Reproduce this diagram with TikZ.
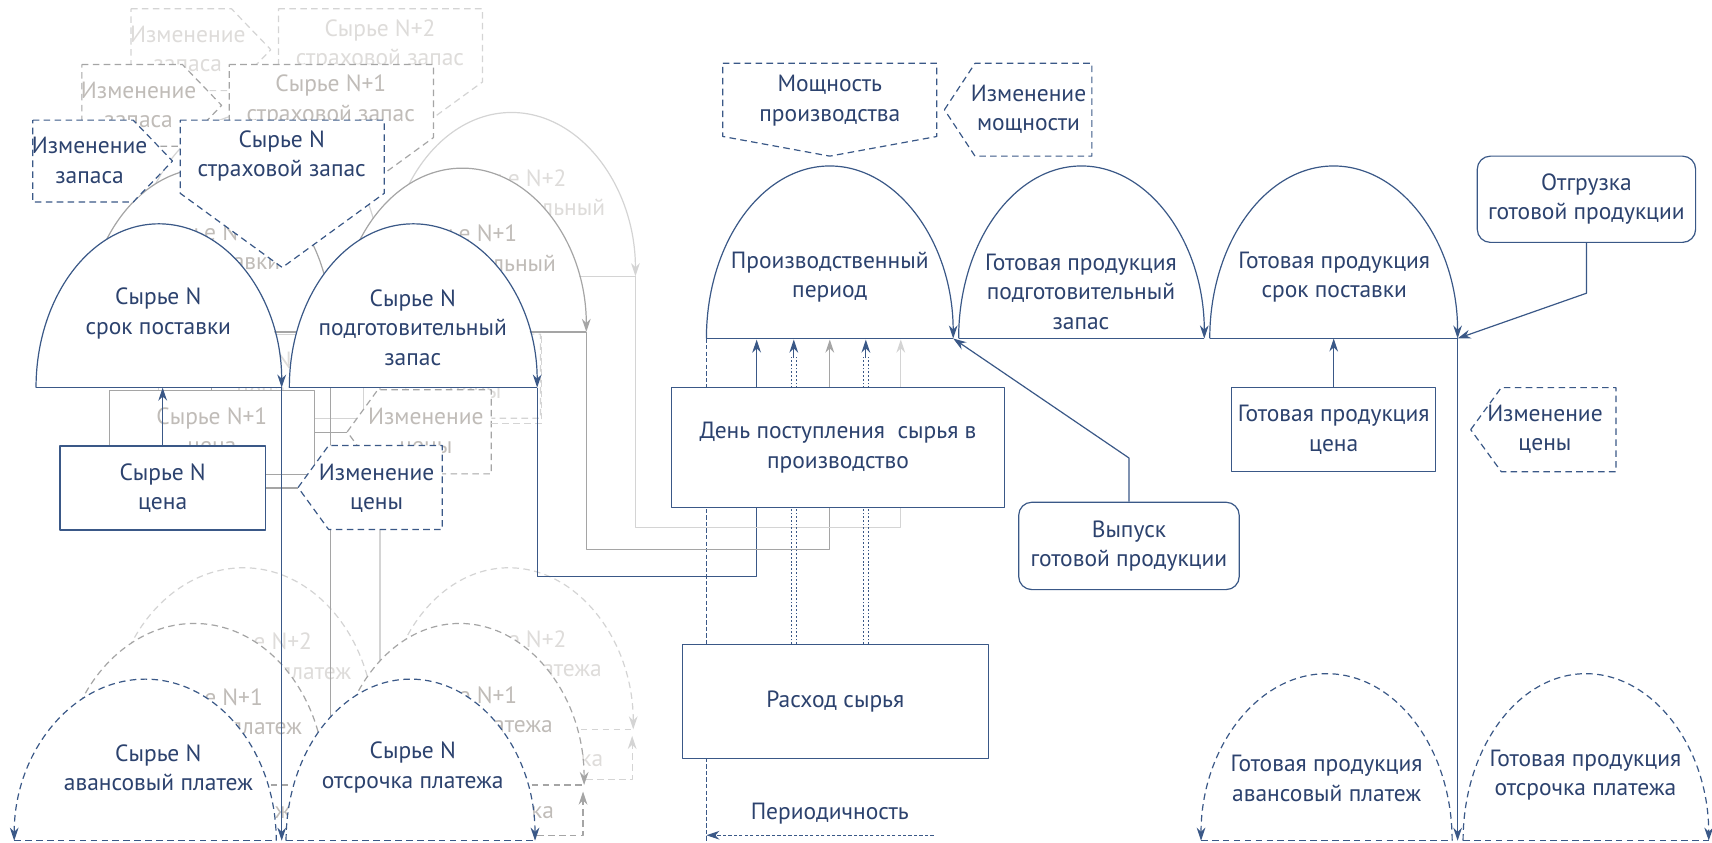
\documentclass[tikz,border=0pt]{standalone}
\usepackage{fontspec}
\setmainfont{PT Sans}
\usetikzlibrary{arrows.meta}

\definecolor{nblue}{RGB}{58,88,135}
\definecolor{ntext}{RGB}{44,66,110}
\definecolor{gone}{RGB}{165,165,165}
\definecolor{gonetext}{RGB}{192,188,184}
\definecolor{gtwo}{RGB}{212,212,212}
\definecolor{gtwotext}{RGB}{222,220,218}

\tikzset{
  lbl/.style={align=center,inner sep=0pt,font=\fontsize{21.5}{27}\selectfont},
  box/.style={lbl,draw,fill=white,minimum width=#1,minimum height=77},
  box/.default=188,
  dashln/.style={dash pattern=on 6pt off 4pt},
  dotln/.style={dash pattern=on 1.6pt off 1.8pt},
  arr/.style={-{Stealth[length=12pt,width=8pt]}},
  rarr/.style={{Stealth[length=12pt,width=8pt]}-},
}

% half dome: left x, right x, base y, height, style
\newcommand{\dome}[5]{%
  \fill[white] (#1,#3) arc[start angle=180,end angle=360,x radius={(#2-#1)/2},y radius=#4] -- cycle;
  \draw[#5] (#1,#3) arc[start angle=180,end angle=360,x radius={(#2-#1)/2},y radius=#4];
  \draw[#5,-] (#1,#3) -- (#2,#3);}
% tags: tip/left x, top, bottom, ...
\newcommand{\tagleft}[4]{\filldraw[fill=white,dashln] (#1,{(#2+#3)/2}) -- ({#1+28},#2) -- (#4,#2) -- (#4,#3) -- ({#1+28},#3) -- cycle;}
\newcommand{\tagright}[5]{\filldraw[fill=white,dashln] (#1,#2) -- (#4,#2) -- (#5,{(#2+#3)/2}) -- (#4,#3) -- (#1,#3) -- cycle;}
\newcommand{\tagdown}[5]{\filldraw[fill=white,dashln] (#1,#3) -- (#2,#3) -- (#2,#4) -- ({(#1+#2)/2},#5) -- (#1,#4) -- cycle;}

% one raw material layer: shift x, shift y, line colour, text colour, label, tag, link colour, dome text shift
\newcommand{\rawlayer}[8]{%
\begin{scope}[shift={(#1,#2)},color=#3,every node/.append style={text=#4}]
  \coordinate (leadR#6) at (258,355);
  \coordinate (leadB#6) at (149,355);
  \coordinate (prepR#6) at (492,355);
  \coordinate (payJ#6) at (258,770);
  \coordinate (chgtip#6) at (273,447);
  % supply
  \dome{33}{258}{355}{150}{arr}
  \node[lbl,yshift=#8] (lead#6) at (145,287) {Сырье #5\\срок поставки};
  \dome{265}{492}{355}{150}{arr}
  \node[lbl,yshift=#8] (prep#6) at (378,300) {Сырье #5\\подготовительный\\запас};
  \tagright{30}{110}{185}{122}{158}
  \node[lbl] (chgstock#6) at (82,147) {Изменение\\запаса};
  \tagdown{165}{352}{110}{177}{245}
  \node[lbl] (safe#6) at (258,143) {Сырье #5\\страховой запас};
  % price
  \node[box] (price#6) at (149,447) {Сырье #5\\цена};
  \tagleft{273}{408}{485}{405}
  \node[lbl] (chgprice#6) at (345,447) {Изменение\\цены};
  \draw[#7] (price#6) -- (chgtip#6);
  \draw[arr] (price#6) -- (leadB#6);
  % payment
  \draw[dashln,arr] (447,816) -- (489,816) -- (489,776);
  \dome{13}{253}{770}{148}{dashln,rarr}
  \node[lbl] (avans#6) at (145,703) {Сырье #5\\авансовый платеж};
  \dome{262}{490}{770}{148}{dashln,arr}
  \node[lbl] (delay#6) at (378,703) {Сырье #5\\отсрочка платежа};
  \draw[arr] (leadR#6) -- (payJ#6);
\end{scope}}

\begin{document}
\begin{tikzpicture}[x=1pt,y=-1pt,line width=1.1pt,line join=round]
\path[use as bounding box] (0,0) rectangle (1568,772);
\clip (0,0) rectangle (1568,772);

% raw material layers, back to front
\rawlayer{90}{-102}{gtwo}{gtwotext}{N+2}{c}{gtwo}{8pt}
\node[lbl,text=gtwotext] at (304,693) {ж};
\node[lbl,text=gtwotext] at (542,697) {ка};
\rawlayer{45}{-51}{gone}{gonetext}{N+1}{b}{gone}{8pt}
\node[lbl,text=gonetext] at (259,744) {ж};
\node[lbl,text=gonetext] at (497,744) {ка};
\draw[gtwo,dashln] (450,388) -- (496,388) -- (496,304);
\rawlayer{0}{0}{nblue}{ntext}{N}{a}{gone}{0pt}

\begin{scope}[color=nblue,every node/.append style={text=ntext}]
  \coordinate (prodL) at (647,310);
  \coordinate (prodR) at (873,310);
  \coordinate (gpleadR) at (1335,310);
  \coordinate (gpJ) at (1335,770);
  \coordinate (perStart) at (855,765);
  \coordinate (perEnd) at (647,765);
  % periodicity axis
  \draw[line width=0.9pt,dash pattern=on 4pt off 2pt] (prodL) -- (647,775);
  % ways into production
  \draw (prepRa) |- (693,528) -- (693,440);
  \draw[gone] (prepRb) |- (760,503) -- (760,440);
  \draw[gtwo] (prepRc) |- (825,483) -- (825,440);
  \foreach \x/\c in {693/nblue,760/gone,825/gtwo}
    \draw[\c,arr] (\x,400) -- (\x,311);
  \foreach \x in {727,793}{
    \draw[dotln,line width=0.8pt] ({\x-2},590) -- ({\x-2},326) ({\x+2},590) -- ({\x+2},326);
    \draw[arr] (\x,328) -- (\x,311);
  }
  \node[box=305,minimum height=110] (day) at (767.5,410) {День поступления~~сырья в\\производство};
  \node[box=280,minimum height=105] (use) at (765,642.5) {Расход сырья};

  % capacity
  \tagdown{662}{858}{58}{125}{143}
  \node[lbl] (power) at (760,92) {Мощность\\производства};
  \tagleft{865}{58}{143}{1000}
  \node[lbl] (chgpower) at (942,100) {Изменение\\мощности};

  % production and finished goods
  \dome{647}{873}{310}{158}{arr}
  \node[lbl] (prod) at (760,254) {Производственный\\период};
  \dome{878}{1103}{310}{158}{arr}
  \node[lbl] (gpprep) at (990,267) {Готовая продукция\\подготовительный\\запас};
  \dome{1108}{1335}{310}{158}{arr}
  \node[lbl] (gplead) at (1222,254) {Готовая продукция\\срок поставки};

  \node[box=200,minimum height=79,rounded corners=12pt] (ship) at (1453,182.5) {Отгрузка\\готовой продукции};
  \draw[arr] (ship.south) -- ++(0,46) -- (gpleadR);
  \node[box=187] (gpprice) at (1221.5,393.5) {Готовая продукция\\цена};
  \draw[arr] (gpprice) -- (gpprice |- gpleadR);
  \tagleft{1347}{355}{432}{1480}
  \node[lbl] (gpchg) at (1415,393) {Изменение\\цены};
  \node[box=202,minimum height=80,rounded corners=12pt] (release) at (1034,500) {Выпуск\\готовой продукции};
  \draw[arr] (release.north) -- ++(0,-40) -- (prodR);

  \draw[arr] (gpleadR) -- (gpJ);
  \dome{1100}{1330}{770}{153}{dashln,rarr}
  \node[lbl] (gpavans) at (1215,713) {Готовая продукция\\авансовый платеж};
  \dome{1340}{1565}{770}{153}{dashln,arr}
  \node[lbl] (gpdelay) at (1452,710) {Готовая продукция\\отсрочка платежа};

  \node[lbl] (period) at (760,745) {Периодичность};
  \draw[arr,line width=0.9pt,dash pattern=on 3pt off 2pt] (perStart) -- (perEnd);
\end{scope}
\end{tikzpicture}
\end{document}
